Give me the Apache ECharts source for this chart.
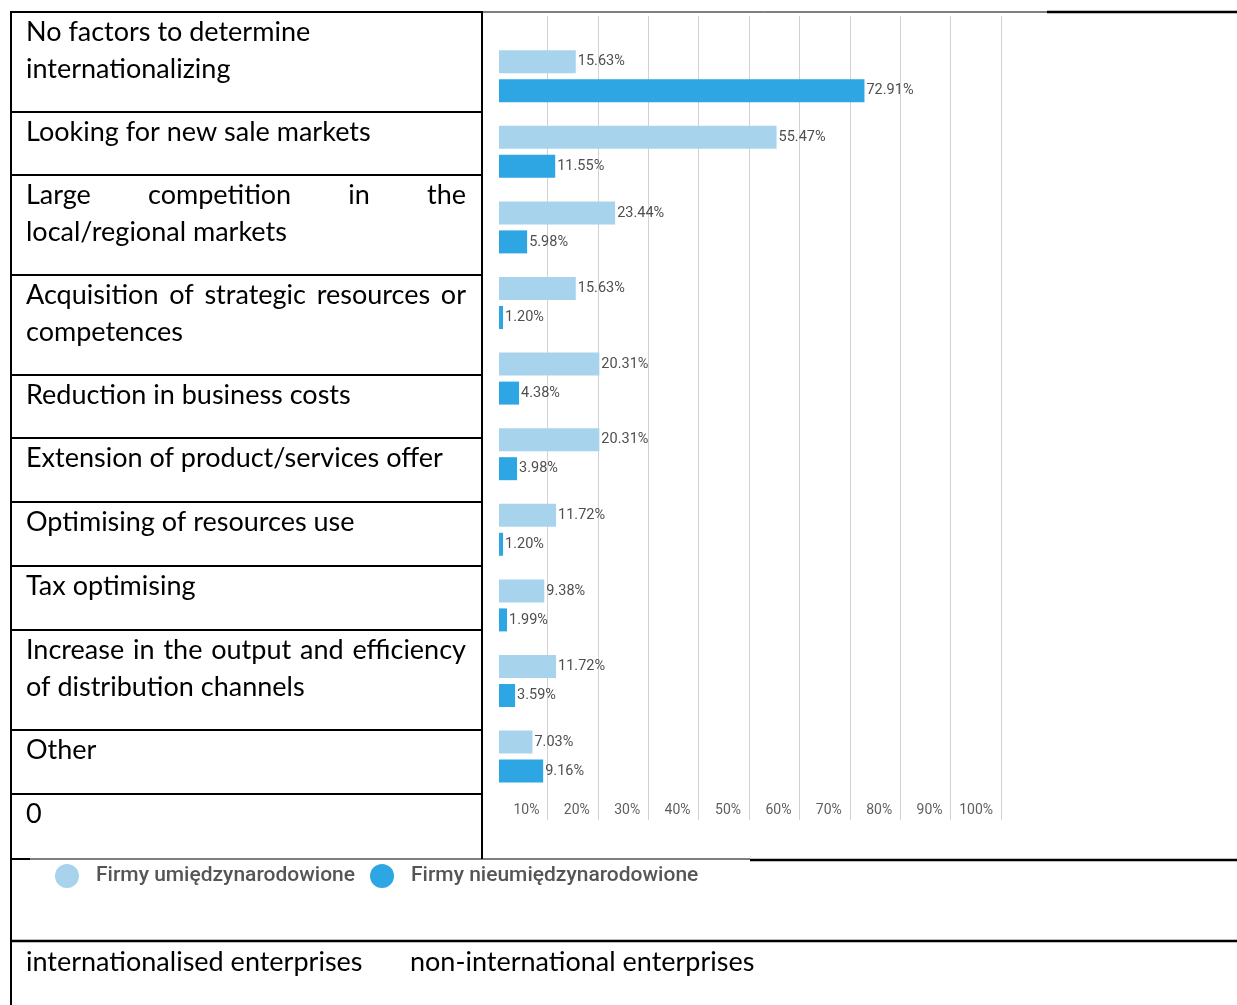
<!DOCTYPE html>
<html>
<head>
<meta charset="utf-8">
<title>Factors of internationalisation</title>
<script src="https://cdn.jsdelivr.net/npm/echarts@6/dist/echarts.min.js"></script>
<style>
  html, body { margin: 0; padding: 0; background: #ffffff; }
  #chart { width: 1237px; height: 1005px; }
</style>
</head>
<body>
<div id="chart"></div>
<script>
// ---- data ----
const categories = [
  'No factors to determine internationalizing',
  'Looking for new sale markets',
  'Large competition in the local/regional markets',
  'Acquisition of strategic resources or competences',
  'Reduction in business costs',
  'Extension of product/services offer',
  'Optimising of resources use',
  'Tax optimising',
  'Increase in the output and efficiency of distribution channels',
  'Other'
];
const seriesNames = ['Firmy umiędzynarodowione', 'Firmy nieumiędzynarodowione'];
const internationalised = [15.63, 55.47, 23.44, 15.63, 20.31, 20.31, 11.72, 9.38, 11.72, 7.03];
const nonInternational  = [72.91, 11.55, 5.98, 1.20, 4.38, 3.98, 1.20, 1.99, 3.59, 9.16];
const tickLabels = ['10%', '20%', '30%', '40%', '50%', '60%', '70%', '80%', '90%', '100%'];
const englishNames = ['internationalised enterprises', 'non-international enterprises'];

// table rows as they wrap in the left column (last row is the axis origin)
const rowLines = [
  ['No factors to determine', 'internationalizing'],
  ['Looking for new sale markets'],
  ['Large competition in the', 'local/regional markets'],
  ['Acquisition of strategic resources or', 'competences'],
  ['Reduction in business costs'],
  ['Extension of product/services offer'],
  ['Optimising of resources use'],
  ['Tax optimising'],
  ['Increase in the output and efficiency', 'of distribution channels'],
  ['Other'],
  ['0']
];
const justifiedLines = { 2: [0], 3: [0], 8: [0] };

// ---- layout ----
const rowTops = [12, 112, 175, 275, 375, 438, 502, 566, 630, 730, 794, 859];
const tableLeft = 11, colSplit = 482, pageRight = 1237;
const textLeft = 26, textRight = 466;
const cellFont = 27, cellFamily = 'Lato';
const lineStep = 37;

const measureCtx = document.createElement('canvas').getContext('2d');
function textWidth(s, size, family) {
  measureCtx.font = size + 'px ' + family;
  return measureCtx.measureText(s).width;
}

const graphics = [];
function hLine(x1, x2, y, w) {
  graphics.push({ type: 'line', z: 120, silent: true,
    shape: { x1: x1, y1: y, x2: x2, y2: y },
    style: { stroke: '#000', lineWidth: w } });
}
function vLine(x, y1, y2, w) {
  graphics.push({ type: 'line', z: 120, silent: true,
    shape: { x1: x, y1: y1, x2: x, y2: y2 },
    style: { stroke: '#000', lineWidth: w } });
}
function cellText(str, x, y) {
  graphics.push({ type: 'text', z: 120, silent: true, x: x, y: y,
    style: { text: str, fill: '#000', font: cellFont + 'px ' + cellFamily,
             textAlign: 'left', textVerticalAlign: 'middle' } });
}

// white strip between column rule and plot (bars are cut at the frame edge)
graphics.push({ type: 'rect', z: 110, silent: true,
  shape: { x: colSplit + 1, y: 14, width: 499 - colSplit - 1, height: 844 },
  style: { fill: '#fff' } });

// table rules
hLine(tableLeft - 1, colSplit, 12, 2);
hLine(colSplit, 1047, 12, 1);
hLine(1047, pageRight, 12, 2.5);
for (let i = 1; i < rowTops.length - 1; i++) hLine(tableLeft, colSplit, rowTops[i], 2);
hLine(tableLeft - 1, 30, 859, 2);
hLine(30, 750, 859, 1);
hLine(750, pageRight, 860, 2.5);
hLine(tableLeft, pageRight, 941, 2.5);
vLine(tableLeft, 11, 1005, 2);
vLine(colSplit, 11, 859, 2);

// left-column labels
rowLines.forEach(function (lines, r) {
  lines.forEach(function (line, k) {
    const y = rowTops[r] + 20 + k * lineStep;
    const just = justifiedLines[r] && justifiedLines[r].indexOf(k) >= 0;
    if (!just) { cellText(line, textLeft, y); return; }
    const words = line.split(' ');
    const widths = words.map(function (w) { return textWidth(w, cellFont, cellFamily); });
    const total = widths.reduce(function (a, b) { return a + b; }, 0);
    const gap = (textRight - textLeft - total) / (words.length - 1);
    let x = textLeft;
    words.forEach(function (w, j) { cellText(w, x, y); x += widths[j] + gap; });
  });
});

// translation row
cellText(englishNames[0], 26, 962);
cellText(englishNames[1], 410, 962);

const labelStyle = {
  show: true, position: 'right', distance: 2,
  fontFamily: 'Roboto', fontSize: 14.5, color: '#4f4f4f',
  formatter: function (p) { return p.value.toFixed(2) + '%'; }
};

const chart = echarts.init(document.getElementById('chart'), null, { renderer: 'canvas' });
chart.setOption({
  backgroundColor: '#fff',
  animation: false,
  color: ['#a8d3ec', '#2ea6e3'],
  legend: {
    data: seriesNames, left: 50, top: 859, padding: 5,
    icon: 'circle', itemWidth: 24, itemHeight: 24, itemGap: 15,
    textStyle: { fontFamily: 'Roboto', fontSize: 21, fontWeight: 500, color: '#555', padding: [0, 0, 0, 12] }
  },
  grid: [
    { left: 497, width: 504, top: 16, height: 804 },
    { left: 497, width: 504, top: 38.4, height: 756 }
  ],
  xAxis: [
    { gridIndex: 0, type: 'value', min: 0, max: 100, interval: 10,
      axisLine: { show: false }, axisTick: { show: false }, axisLabel: { show: false },
      splitLine: { show: true, showMinLine: false, lineStyle: { color: '#d2d2d2', width: 1 } } },
    { gridIndex: 1, type: 'value', min: 0, max: 100, interval: 10,
      axisLine: { show: false }, axisTick: { show: false }, splitLine: { show: false },
      axisLabel: {
        show: true, margin: 9, align: 'right', padding: [0, 8, 0, 0],
        fontFamily: 'Roboto', fontSize: 14, color: '#5f5f5f',
        showMinLabel: false, showMaxLabel: true,
        formatter: function (v) { return v === 0 ? '' : tickLabels[v / 10 - 1]; }
      } }
  ],
  yAxis: [
    { gridIndex: 0, type: 'value', show: false },
    { gridIndex: 1, type: 'category', data: categories, inverse: true, show: false }
  ],
  series: [
    { name: seriesNames[0], type: 'bar', xAxisIndex: 1, yAxisIndex: 1,
      data: internationalised, barWidth: 23, barGap: '26%', label: labelStyle },
    { name: seriesNames[1], type: 'bar', xAxisIndex: 1, yAxisIndex: 1,
      data: nonInternational, barWidth: 23, barGap: '26%', label: labelStyle }
  ],
  graphic: graphics
});
</script>
</body>
</html>
